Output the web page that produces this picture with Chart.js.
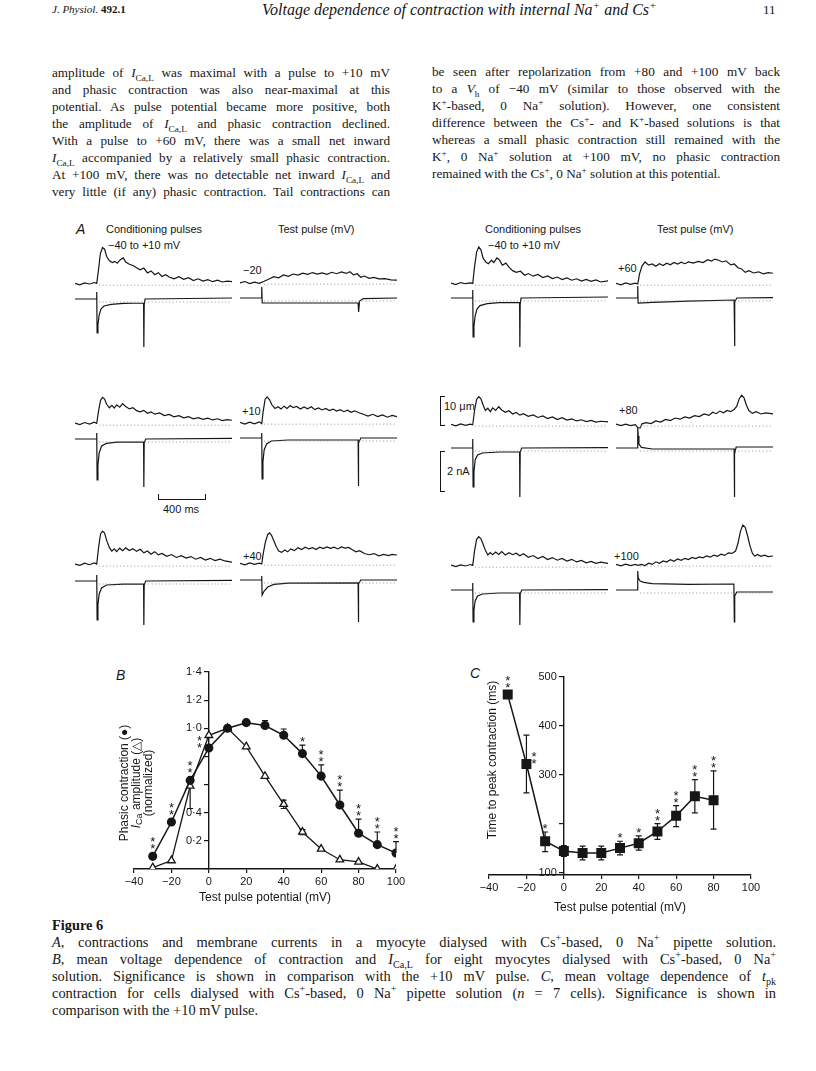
<!DOCTYPE html>
<html>
<head>
<meta charset="utf-8">
<script src="https://cdn.jsdelivr.net/npm/chart.js@4.4.1/dist/chart.umd.min.js"></script>
<style>
  body { margin: 0; width: 816px; height: 1071px; background: #fff; position: relative; overflow: hidden; color: #161616; }
  .t { position: absolute; white-space: nowrap; }
  .col { position: absolute; font-family: "Liberation Serif"; font-size: 13.2px; line-height: 17px; }
  .col div { text-align: justify; text-align-last: justify; white-space: nowrap; }
  .col div.last { text-align-last: left; }
  sub, sup { font-size: 70%; line-height: 0; }
  .lab { position: absolute; font-family: "Liberation Sans"; font-size: 11px; white-space: nowrap; }
  .cap { position: absolute; left: 52px; width: 724px; font-family: "Liberation Serif"; font-size: 14.4px; line-height: 17px; }
  .cap div { text-align: justify; text-align-last: justify; white-space: nowrap; }
  .cap div.last { text-align-last: left; }
  canvas { position: absolute; }
  .bar { position: absolute; border: 1.4px solid #161616; box-sizing: border-box; }
</style>
</head>
<body>

<div class="t" style="left:52px;top:3px;font:italic 11px 'Liberation Serif'">J. Physiol.<b style="font-style:normal"> 492.1</b></div>
<div class="t" style="left:262px;top:1px;font:italic 16px 'Liberation Serif'">Voltage dependence of contraction with internal Na<sup>+</sup> and Cs<sup>+</sup></div>
<div class="t" style="left:763px;top:2px;font:13px 'Liberation Serif'">11</div>

<div class="col" style="left:52px;top:64px;width:338px">
  <div>amplitude of <i>I</i><sub>Ca,L</sub> was maximal with a pulse to +10 mV</div>
  <div>and phasic contraction was also near-maximal at this</div>
  <div>potential. As pulse potential became more positive, both</div>
  <div>the amplitude of <i>I</i><sub>Ca,L</sub> and phasic contraction declined.</div>
  <div>With a pulse to +60 mV, there was a small net inward</div>
  <div><i>I</i><sub>Ca,L</sub> accompanied by a relatively small phasic contraction.</div>
  <div>At +100 mV, there was no detectable net inward <i>I</i><sub>Ca,L</sub> and</div>
  <div>very little (if any) phasic contraction. Tail contractions can</div>
</div>
<div class="col" style="left:432px;top:63px;width:348px">
  <div>be seen after repolarization from +80 and +100 mV back</div>
  <div>to a <i>V</i><sub>h</sub> of −40 mV (similar to those observed with the</div>
  <div>K<sup>+</sup>-based, 0 Na<sup>+</sup> solution). However, one consistent</div>
  <div>difference between the Cs<sup>+</sup>- and K<sup>+</sup>-based solutions is that</div>
  <div>whereas a small phasic contraction still remained with the</div>
  <div>K<sup>+</sup>, 0 Na<sup>+</sup> solution at +100 mV, no phasic contraction</div>
  <div class="last">remained with the Cs<sup>+</sup>, 0 Na<sup>+</sup> solution at this potential.</div>
</div>

<div class="lab" style="left:76px;top:221px;font:italic 14px 'Liberation Sans'">A</div>
<div class="lab" style="left:106px;top:223px">Conditioning pulses</div>
<div class="lab" style="left:278px;top:223px">Test pulse (mV)</div>
<div class="lab" style="left:485px;top:223px">Conditioning pulses</div>
<div class="lab" style="left:657px;top:223px">Test pulse (mV)</div>
<div class="lab" style="left:108px;top:239px">−40 to +10 mV</div>
<div class="lab" style="left:488px;top:239px">−40 to +10 mV</div>
<div class="lab" style="left:243px;top:264px">−20</div>
<div class="lab" style="left:618px;top:262px">+60</div>
<div class="lab" style="left:242px;top:405px">+10</div>
<div class="lab" style="left:619px;top:404px">+80</div>
<div class="lab" style="left:243px;top:550px">+40</div>
<div class="lab" style="left:614px;top:550px">+100</div>

<div class="bar" style="left:158px;top:494px;width:48px;height:6px;border-top:none"></div>
<div class="lab" style="left:163px;top:503px">400 ms</div>
<div class="bar" style="left:440px;top:396px;width:5px;height:30px;border-right:none"></div>
<div class="lab" style="left:444px;top:400px">10 μm</div>
<div class="bar" style="left:440px;top:451px;width:5px;height:41px;border-right:none"></div>
<div class="lab" style="left:447px;top:465px">2 nA</div>

<div class="lab" style="left:116px;top:667px;font:italic 14px 'Liberation Sans'">B</div>
<div class="lab" style="left:470px;top:665px;font:italic 14px 'Liberation Sans'">C</div>

<div class="t" style="left:52px;top:917px;font:bold 14.4px 'Liberation Serif'">Figure 6</div>
<div class="cap" style="top:934px">
  <div><i>A</i>, contractions and membrane currents in a myocyte dialysed with Cs<sup>+</sup>-based, 0 Na<sup>+</sup> pipette solution.</div>
  <div><i>B</i>, mean voltage dependence of contraction and <i>I</i><sub>Ca,L</sub> for eight myocytes dialysed with Cs<sup>+</sup>-based, 0 Na<sup>+</sup></div>
  <div>solution. Significance is shown in comparison with the +10 mV pulse. <i>C</i>, mean voltage dependence of <i>t</i><sub>pk</sub></div>
  <div>contraction for cells dialysed with Cs<sup>+</sup>-based, 0 Na<sup>+</sup> pipette solution (<i>n</i> = 7 cells). Significance is shown in</div>
  <div class="last">comparison with the +10 mV pulse.</div>
</div>

<canvas id="chartB" width="310" height="255" style="left:100px;top:650px"></canvas>
<canvas id="chartC" width="330" height="255" style="left:460px;top:660px"></canvas>

<script>
// ---- panel B: normalised phasic contraction and ICa vs test potential
const xB = [-30, -20, -10, 0, 10, 20, 30, 40, 50, 60, 70, 80, 90, 100];
const contraction = [0.09, 0.334, 0.63, 0.86, 1.0, 1.04, 1.02, 0.95, 0.82, 0.66, 0.455, 0.254, 0.173, 0.114];
const contractionErr = [null, null, null, null, null, null, 1.055, 0.995, 0.88, 0.74, 0.56, 0.355, 0.263, 0.194];
const iCa = [0.01, 0.06, 0.59, 0.95, 1.0, 0.87, 0.66, 0.46, 0.263, 0.142, 0.066, 0.05, 0, 0];
const iCaErrUp = [null, null, null, null, null, null, null, 0.49, 0.28, null, null, null, null, null];
const iCaErrDown = [null, null, 0.43, null, null, null, null, 0.43, 0.245, null, null, null, null, null];
const sigB = ['**', '**', '**', '**', '', '', '', '', '*', '**', '**', '**', '**', '**'];
const xTicks = [-40, -20, 0, 20, 40, 60, 80, 100];
const yTicksB = [0.2, 0.4, 1.0, 1.2, 1.4];

// ---- panel C: time to peak contraction
const xC = [-30, -20, -10, 0, 10, 20, 30, 40, 50, 60, 70, 80];
const tpk = [464, 322, 164, 144, 140, 140, 150, 160, 184, 216, 256, 248];
const tpkHi = [null, 381, 183, 155, 154, 154, 164, 175, 200, 237, 290, 308];
const tpkLo = [null, 263, 143, 133, 126, 126, 136, 146, 168, 194, 222, 189];
const sigC = ['**', '**', '*', '', '', '', '*', '*', '**', '**', '**', '**'];
const yTicksC = [100, 300, 400, 500];

// ---- panel A traces: [time (ms), contraction (um)] and [time (ms), current (nA)]
const cond1L = [[0,0.2],[40,-0.3],[80,0.4],[120,0],[160,0.5],[180,0.2],[195,5],[210,10.5],[228,12.6],[245,12],[262,9.5],[285,8],[310,7.4],[330,7.8],[350,7.2],[375,8.4],[400,9.0],[420,7.6],[450,6.8],[480,6.4],[510,5.6],[540,4.9],[570,5.5],[600,3.8],[630,4.5],[660,3.2],[690,3.9],[720,2.6],[750,3.2],[780,2.4],[820,1.8],[860,2.5],[900,1.6],[940,2.2],[980,1.2],[1020,1.8],[1060,1.0],[1100,1.5],[1140,0.8],[1180,1.3],[1220,0.7],[1260,1.0],[1300,0.8]];
const cur1L = [[0,0],[179,0],[180,0.35],[183,-1.7],[190,-1.3],[200,-0.8],[215,-0.5],[240,-0.35],[300,-0.27],[400,-0.22],[568,-0.2],[570,-2.4],[573,-0.3],[580,0],[1300,0.05]];
const test1L = [[0,0],[40,0.5],[80,-0.2],[120,0.3],[160,-0.1],[200,0.6],[240,1.4],[280,2.2],[320,1.8],[360,2.8],[400,2.3],[440,3.1],[480,2.7],[520,3.4],[560,3.0],[600,3.6],[640,3.1],[680,3.5],[720,3.0],[760,3.7],[800,3.2],[840,3.8],[880,3.3],[910,3.9],[940,2.8],[970,3.2],[1000,2.0],[1030,2.4],[1070,1.6],[1110,1.9],[1150,1.4],[1200,1.5],[1250,1.1],[1300,1.0]];
const curT1L = [[0,0],[179,0],[180,0.55],[184,-0.25],[978,-0.25],[982,-0.7],[990,-0.15],[1020,-0.03],[1300,0]];
const cond1R = [[0,0.3],[40,-0.2],[80,0.5],[120,0.1],[160,0.4],[180,0.2],[195,6],[212,11],[230,12.8],[248,11.8],[265,9],[290,7.5],[310,7.0],[335,8.2],[355,7.4],[380,9.0],[400,8.4],[425,6.5],[455,7.2],[480,5.8],[510,4.6],[540,4.0],[575,4.4],[610,3.0],[640,3.6],[680,2.7],[720,3.3],[760,2.2],[800,2.8],[840,1.9],[880,2.4],[920,1.5],[960,2.1],[1000,1.3],[1040,1.8],[1080,1.0],[1120,1.6],[1160,0.9],[1200,1.4],[1240,0.7],[1300,1.1]];
const cur1R = [[0,0],[179,0],[180,0.4],[183,-1.95],[190,-1.4],[200,-0.9],[215,-0.55],[240,-0.38],[300,-0.28],[400,-0.23],[568,-0.22],[570,-2.45],[573,-0.3],[580,0],[1300,0.05]];
const test1R = [[0,0.2],[40,-0.3],[80,0.4],[120,-0.1],[160,0.3],[180,0],[195,3.5],[215,6.2],[240,7.6],[270,6.5],[300,6.9],[330,6.1],[360,7.0],[390,6.4],[420,7.2],[450,6.6],[480,7.4],[510,6.9],[540,7.5],[570,7.0],[600,7.6],[640,7.2],[680,7.8],[720,7.4],[760,8.4],[790,7.9],[820,8.6],[850,8.2],[880,7.6],[910,8.0],[950,6.6],[980,6.9],[1010,5.6],[1040,5.2],[1070,4.0],[1100,4.6],[1140,3.8],[1180,4.2],[1220,3.5],[1260,3.9],[1300,3.7]];
const curT1R = [[0,0],[179,0],[180,0.6],[183,-0.25],[300,-0.22],[600,-0.16],[978,-0.1],[981,-2.4],[985,-0.2],[1000,0],[1300,0.02]];

const cond2L = [[0,0.3],[40,-0.2],[80,0.5],[120,0],[160,0.6],[180,0.2],[195,4.5],[212,8.2],[228,9.2],[245,8.6],[262,6.8],[285,5.6],[305,6.4],[325,5.5],[345,6.6],[370,5.8],[395,7.0],[420,6.0],[450,5.2],[480,5.6],[510,4.6],[540,4.2],[570,4.7],[600,3.7],[630,4.2],[660,3.4],[700,3.8],[740,2.9],[780,3.3],[820,2.5],[860,2.9],[900,2.1],[940,2.5],[980,1.8],[1020,2.2],[1060,1.6],[1100,2.0],[1140,1.4],[1180,1.8],[1220,1.2],[1260,1.5],[1300,1.3]];
const cur2L = [[0,0],[179,0],[180,0.3],[183,-2.05],[190,-1.3],[200,-0.7],[220,-0.35],[260,-0.22],[350,-0.16],[568,-0.15],[570,-2.4],[573,-0.2],[585,0],[1300,0.03]];
const test2L = [[0,0.2],[40,-0.4],[80,0.3],[120,-0.3],[160,0.4],[180,-0.2],[192,4],[208,8.2],[225,9.0],[245,8.0],[265,6.2],[290,5.0],[315,5.6],[340,4.8],[365,5.8],[390,5.0],[415,6.0],[440,5.3],[470,5.7],[500,4.8],[530,5.5],[560,4.9],[590,5.6],[620,4.6],[650,5.2],[680,4.5],[710,5.0],[740,4.3],[770,4.8],[800,4.1],[830,4.6],[860,3.9],[890,4.4],[920,3.7],[950,4.2],[980,3.6],[1020,3.0],[1060,2.4],[1100,3.0],[1140,2.2],[1180,2.8],[1220,2.0],[1260,2.6],[1300,2.2]];
const curT2L = [[0,0],[179,0],[180,0.25],[183,-2.05],[190,-1.2],[200,-0.6],[220,-0.3],[260,-0.15],[400,-0.1],[978,-0.1],[980,-2.4],[983,-0.25],[1000,0],[1300,0]];
const cond2R = [[0,0.2],[40,-0.3],[80,0.4],[120,-0.1],[160,0.3],[180,0.1],[195,5],[212,8.8],[230,9.8],[248,9.0],[265,7.0],[285,5.0],[305,5.8],[325,4.6],[345,5.9],[370,5.0],[395,6.3],[420,5.2],[450,4.4],[480,4.9],[510,3.8],[540,4.3],[570,3.4],[600,3.9],[640,3.0],[680,3.5],[720,2.6],[760,3.1],[800,2.2],[840,2.8],[880,1.9],[920,2.5],[960,1.7],[1000,2.1],[1040,1.4],[1080,1.8],[1120,1.2],[1160,1.6],[1200,1.0],[1240,1.3],[1300,1.1]];
const cur2R = [[0,0],[179,0],[180,0.45],[183,-1.95],[190,-1.2],[200,-0.6],[220,-0.35],[260,-0.25],[400,-0.2],[568,-0.2],[570,-2.45],[573,-0.2],[585,0],[1300,0.02]];
const test2R = [[0,0.3],[40,-0.2],[80,0.3],[120,-0.2],[160,0.1],[180,-0.9],[200,-1],[215,0.4],[250,0.8],[290,0.5],[330,1.4],[370,1.0],[410,1.9],[450,1.5],[490,2.4],[530,2.0],[570,2.8],[610,2.4],[650,3.2],[690,2.9],[730,3.8],[770,3.3],[800,4.4],[830,3.9],[860,4.8],[890,4.2],[920,5.0],[950,4.6],[980,5.4],[1000,6.5],[1020,9.0],[1040,10.3],[1060,9.4],[1080,6.8],[1100,5.0],[1130,4.0],[1160,4.6],[1200,3.8],[1240,4.2],[1300,3.8]];
const curT2R = [[0,0],[179,0],[180,1.0],[184,0.6],[190,0.2],[210,0.03],[300,-0.05],[978,-0.05],[980,-2.45],[983,-0.3],[995,0.05],[1300,0.05]];

const cond3L = [[0,0.3],[40,-0.1],[80,0.6],[120,0.1],[160,0.7],[180,0.3],[195,6],[212,10.8],[228,11.7],[245,11.0],[262,8.5],[285,6.0],[305,4.8],[325,5.6],[345,4.6],[370,5.8],[395,4.9],[420,5.9],[450,5.0],[480,5.6],[510,4.7],[540,5.4],[570,4.2],[600,4.8],[630,3.7],[660,4.6],[690,3.5],[720,4.0],[760,3.0],[800,3.6],[840,2.6],[880,3.2],[920,2.4],[960,2.9],[1000,2.0],[1040,2.6],[1080,1.7],[1120,2.3],[1160,1.5],[1200,2.0],[1240,1.4],[1300,1.0]];
const cur3L = [[0,0],[179,0],[180,0.3],[183,-1.95],[190,-1.2],[200,-0.65],[220,-0.35],[260,-0.2],[400,-0.16],[568,-0.15],[570,-2.2],[573,-0.2],[585,0],[1300,0.03]];
const test3L = [[0,0.2],[40,-0.3],[80,0.4],[120,-0.1],[160,0.3],[180,0],[192,3.5],[210,7.5],[230,10.2],[245,10.7],[262,9.8],[280,8],[300,6],[320,4.5],[345,4.0],[370,4.8],[395,4.2],[420,5.2],[450,4.6],[480,5.6],[510,5.0],[540,5.8],[570,5.2],[600,5.6],[630,5.0],[660,5.8],[690,5.3],[720,5.9],[750,5.4],[780,5.8],[810,5.2],[840,5.9],[870,5.5],[900,5.7],[930,4.9],[960,4.2],[990,4.6],[1030,3.6],[1070,3.2],[1110,3.6],[1150,2.8],[1190,3.3],[1230,2.9],[1260,3.3],[1300,3.1]];
const curT3L = [[0,0],[179,0],[180,0.2],[183,-0.75],[200,-0.55],[230,-0.35],[280,-0.22],[400,-0.16],[978,-0.14],[980,-2.1],[983,-0.2],[1000,0],[1300,0]];
const cond3R = [[0,0.3],[40,-0.2],[80,0.4],[120,0],[160,0.5],[180,0.2],[195,5.2],[212,9.2],[230,10.1],[248,9.4],[265,7.6],[285,5.4],[305,3.8],[325,4.6],[345,3.9],[370,4.8],[395,4.0],[420,5.0],[450,3.8],[480,4.6],[510,3.9],[540,4.4],[570,3.5],[600,4.2],[640,3.0],[680,3.6],[720,2.6],[760,3.3],[800,2.2],[840,2.9],[880,2.0],[920,2.6],[960,1.7],[1000,2.3],[1040,1.4],[1080,1.9],[1120,1.1],[1160,1.6],[1200,0.9],[1240,1.3],[1300,0.9]];
const cur3R = [[0,0],[179,0],[180,0.35],[183,-1.6],[190,-1.0],[200,-0.55],[220,-0.3],[260,-0.2],[400,-0.15],[568,-0.15],[570,-1.75],[573,-0.2],[585,0],[1300,0.02]];
const test3R = [[0,0.2],[40,-0.3],[80,0.3],[120,-0.2],[160,0.2],[180,-0.1],[210,0.2],[240,-0.2],[270,0.6],[300,0.2],[330,1.1],[360,0.6],[390,1.4],[420,1.0],[450,1.8],[480,1.3],[510,2.1],[540,1.6],[570,2.3],[600,1.9],[630,2.6],[660,2.2],[690,2.8],[720,2.5],[750,3.1],[780,2.7],[810,3.4],[840,3.0],[870,3.7],[900,3.3],[930,4.2],[960,4.0],[990,4.8],[1010,7.5],[1030,11.5],[1050,13.8],[1070,13.0],[1090,10.0],[1110,6.5],[1130,4.0],[1150,3.0],[1170,3.6],[1200,3.0],[1230,3.4],[1260,2.9],[1300,3.1]];
const curT3R = [[0,0],[179,0],[180,0.95],[184,0.6],[200,0.45],[230,0.38],[300,0.32],[600,0.28],[976,0.3],[980,-1.6],[983,-0.3],[1000,-0.1],[1300,-0.1]];

const dotLevelC = -0.4;   // um, dotted reference under contraction
const dotLevelI = -0.15;  // nA, dotted reference under current

// layout of the trace panels (page pixels)
const UM_PX = 2.9, NA_PX = 20, MS_MAX = 1300, PANEL_W = 157;
const panels = [
  {left: 75,  top: 238, h: 116, cBase: 284, iBase: 299, c: cond1L, i: cur1L},
  {left: 240, top: 238, h: 116, cBase: 283, iBase: 298, c: test1L, i: curT1L},
  {left: 451, top: 238, h: 116, cBase: 284, iBase: 298, c: cond1R, i: cur1R},
  {left: 616, top: 238, h: 116, cBase: 284, iBase: 298, c: test1R, i: curT1R},
  {left: 75,  top: 380, h: 120, cBase: 424, iBase: 439, c: cond2L, i: cur2L},
  {left: 240, top: 380, h: 120, cBase: 423, iBase: 438, c: test2L, i: curT2L},
  {left: 451, top: 380, h: 120, cBase: 425, iBase: 448, c: cond2R, i: cur2R},
  {left: 616, top: 380, h: 120, cBase: 425, iBase: 448, c: test2R, i: curT2R},
  {left: 75,  top: 518, h: 112, cBase: 565, iBase: 581, c: cond3L, i: cur3L},
  {left: 240, top: 518, h: 112, cBase: 564, iBase: 580, c: test3L, i: curT3L},
  {left: 451, top: 518, h: 112, cBase: 566, iBase: 590, c: cond3R, i: cur3R},
  {left: 616, top: 518, h: 112, cBase: 565, iBase: 590, c: test3R, i: curT3R}
];

Chart.defaults.font.family = 'Liberation Sans';
Chart.defaults.color = '#161616';
const INK = '#161616';
const pts = arr => arr.map(([t, v]) => ({x: t, y: v}));

panels.forEach(p => {
  const cv = document.createElement('canvas');
  cv.width = PANEL_W; cv.height = p.h;
  cv.style.left = p.left + 'px'; cv.style.top = p.top + 'px';
  document.body.appendChild(cv);
  const line = {borderColor: INK, borderWidth: 1.2, pointRadius: 0, tension: 0, fill: false};
  const dots = {borderColor: '#8a8a8a', borderWidth: 0.9, borderDash: [1, 2.5], pointRadius: 0, fill: false};
  new Chart(cv, {
    type: 'line',
    data: {datasets: [
      {...dots, data: pts([[200, dotLevelC], [MS_MAX, dotLevelC]]), yAxisID: 'c'},
      {...dots, data: pts([[200, dotLevelI], [MS_MAX, dotLevelI]]), yAxisID: 'i'},
      {...line, data: pts(p.c), yAxisID: 'c'},
      {...line, data: pts(p.i), yAxisID: 'i'}
    ]},
    options: {
      responsive: false, animation: false, events: [],
      layout: {padding: 0},
      plugins: {legend: {display: false}, tooltip: {enabled: false}},
      scales: {
        x: {type: 'linear', display: false, min: 0, max: MS_MAX},
        c: {type: 'linear', display: false, min: -(p.top + p.h - p.cBase) / UM_PX, max: (p.cBase - p.top) / UM_PX},
        i: {type: 'linear', display: false, min: -(p.top + p.h - p.iBase) / NA_PX, max: (p.iBase - p.top) / NA_PX}
      }
    }
  });
});

// error bars drawn from dataset errUp / errDown arrays
const errorBars = {
  id: 'errorBars',
  beforeDatasetsDraw(chart) {
    const {ctx} = chart, y = chart.scales.y;
    ctx.save();
    ctx.strokeStyle = INK; ctx.lineWidth = 1.2;
    chart.data.datasets.forEach((ds, i) => {
      chart.getDatasetMeta(i).data.forEach((pt, j) => {
        [ds.errUp && ds.errUp[j], ds.errDown && ds.errDown[j]].forEach(v => {
          if (v == null) return;
          const py = y.getPixelForValue(v);
          ctx.beginPath();
          ctx.moveTo(pt.x, pt.y); ctx.lineTo(pt.x, py);
          ctx.moveTo(pt.x - 3, py); ctx.lineTo(pt.x + 3, py);
          ctx.stroke();
        });
      });
    });
    ctx.restore();
  }
};

// significance asterisks, stacked above the highest mark at each potential
const stars = {
  id: 'stars',
  afterDatasetsDraw(chart, args, opts) {
    if (!opts.labels) return;
    const {ctx} = chart, {x, y} = chart.scales;
    ctx.save();
    ctx.font = '13px "Liberation Sans"'; ctx.textAlign = 'center'; ctx.fillStyle = INK;
    opts.labels.forEach((s, j) => {
      if (!s) return;
      const first = chart.getDatasetMeta(0).data[j];
      let cx = first.x, cy;
      const dx = opts.beside[opts.xs[j]];
      if (dx != null) {
        cx = x.getPixelForValue(opts.xs[j] + dx);
        cy = first.y - 3;
      } else {
        let top = Infinity;
        chart.data.datasets.forEach((ds, i) => {
          top = Math.min(top, chart.getDatasetMeta(i).data[j].y - 4);
          if (ds.errUp && ds.errUp[j] != null) top = Math.min(top, y.getPixelForValue(ds.errUp[j]));
        });
        cy = top - 6;
      }
      for (let k = 0; k < s.length; k++) ctx.fillText('*', cx, cy - 7 * k + 7);
    });
    ctx.restore();
  }
};

// y tick labels, right-aligned just left of the axis line at x = 0
const yLabels = {
  id: 'yLabels',
  afterDraw(chart, args, opts) {
    if (!opts.values) return;
    const {ctx} = chart, {x, y} = chart.scales;
    const ax = x.getPixelForValue(0);
    ctx.save();
    ctx.font = '11px "Liberation Sans"'; ctx.fillStyle = INK;
    ctx.textAlign = 'right'; ctx.textBaseline = 'middle';
    opts.values.forEach(v => ctx.fillText(opts.fmt(v), ax - 7, y.getPixelForValue(v)));
    ctx.restore();
  }
};

// rotated y-axis titles with italic / subscript runs
const yTitle = {
  id: 'yTitle',
  afterDraw(chart, args, opts) {
    if (!opts.lines) return;
    const {ctx} = chart;
    ctx.save();
    ctx.fillStyle = INK; ctx.textBaseline = 'middle';
    opts.lines.forEach((runs, n) => {
      const fontOf = st => (st === 'i' ? 'italic ' : '') + (st === 'sub' ? '9px' : '12px') + ' "Liberation Sans"';
      let w = 0;
      runs.forEach(([txt, st]) => { ctx.font = fontOf(st); w += ctx.measureText(txt).width; });
      ctx.save();
      ctx.translate(opts.x[n], opts.cy);
      ctx.rotate(-Math.PI / 2);
      let px = -w / 2;
      runs.forEach(([txt, st]) => {
        ctx.font = fontOf(st);
        ctx.fillText(txt, px, st === 'sub' ? 3 : 0);
        px += ctx.measureText(txt).width;
      });
      ctx.restore();
    });
    ctx.restore();
  }
};

const axisFont = {family: 'Liberation Sans', size: 11};
function xAxis(height) {
  return {
    type: 'linear', min: -40, max: 100,
    afterBuildTicks: s => { s.ticks = xTicks.map(v => ({value: v})); },
    afterFit: s => { s.height = height; },
    ticks: {font: axisFont, color: INK, padding: 2, maxRotation: 0, callback: v => String(v).replace('-', '−')},
    grid: {drawOnChartArea: false, tickLength: 4, color: INK, lineWidth: 1.2},
    border: {color: INK, width: 1.4},
    title: {display: true, text: 'Test pulse potential (mV)', font: {family: 'Liberation Sans', size: 12}, color: INK, padding: {top: 1, bottom: 0}}
  };
}
function yAxis(min, max, tickVals) {
  return {
    type: 'linear', min, max, position: {x: 0},
    afterBuildTicks: s => { s.ticks = tickVals.map(v => ({value: v})); },
    ticks: {font: axisFont, color: INK, callback: () => ''},
    grid: {drawOnChartArea: false, tickLength: 4, color: INK, lineWidth: 1.2},
    border: {color: INK, width: 1.4}
  };
}

new Chart(document.getElementById('chartB'), {
  type: 'line',
  data: {datasets: [
    {data: xB.map((v, k) => ({x: v, y: contraction[k]})), errUp: contractionErr,
     borderColor: INK, backgroundColor: INK, borderWidth: 1.5, pointStyle: 'circle', pointRadius: 3.8, tension: 0},
    {data: xB.map((v, k) => ({x: v, y: iCa[k]})), errUp: iCaErrUp, errDown: iCaErrDown,
     borderColor: INK, backgroundColor: '#fff', pointBackgroundColor: '#fff', borderWidth: 1.3, pointStyle: 'triangle', pointRadius: 4.4, tension: 0}
  ]},
  options: {
    responsive: false, animation: false, events: [],
    layout: {padding: {left: 34, right: 14, top: 22, bottom: 0}},
    plugins: {
      legend: {display: false}, tooltip: {enabled: false},
      stars: {labels: sigB, xs: xB, beside: {0: -5}},
      yLabels: {values: yTicksB, fmt: v => v.toFixed(1).replace('.', '·')},
      yTitle: {lines: [[['Phasic contraction (●)']], [['I', 'i'], ['Ca', 'sub'], [' amplitude (△)']], [['(normalized)']]], x: [25, 37, 49], cy: 133}
    },
    scales: {
      x: xAxis(36),
      y: yAxis(0, 1.4, [0, 0.2, 0.4, 0.6, 0.8, 1.0, 1.2, 1.4])
    }
  },
  plugins: [errorBars, stars, yLabels, yTitle]
});

new Chart(document.getElementById('chartC'), {
  type: 'line',
  data: {datasets: [
    {data: xC.map((v, k) => ({x: v, y: tpk[k]})), errUp: tpkHi, errDown: tpkLo,
     borderColor: INK, backgroundColor: INK, borderWidth: 1.5, pointStyle: 'rect', pointRadius: 6, tension: 0}
  ]},
  options: {
    responsive: false, animation: false, events: [],
    layout: {padding: {left: 29, right: 39, top: 17, bottom: 0}},
    plugins: {
      legend: {display: false}, tooltip: {enabled: false},
      stars: {labels: sigC, xs: xC, beside: {'-20': 4}},
      yLabels: {values: yTicksC, fmt: v => String(v)},
      yTitle: {lines: [[['Time to peak contraction (ms)']]], x: [33], cy: 100}
    },
    scales: {
      x: xAxis(40),
      y: yAxis(95, 500, [100, 200, 300, 400, 500])
    }
  },
  plugins: [errorBars, stars, yLabels, yTitle]
});
</script>
</body>
</html>
